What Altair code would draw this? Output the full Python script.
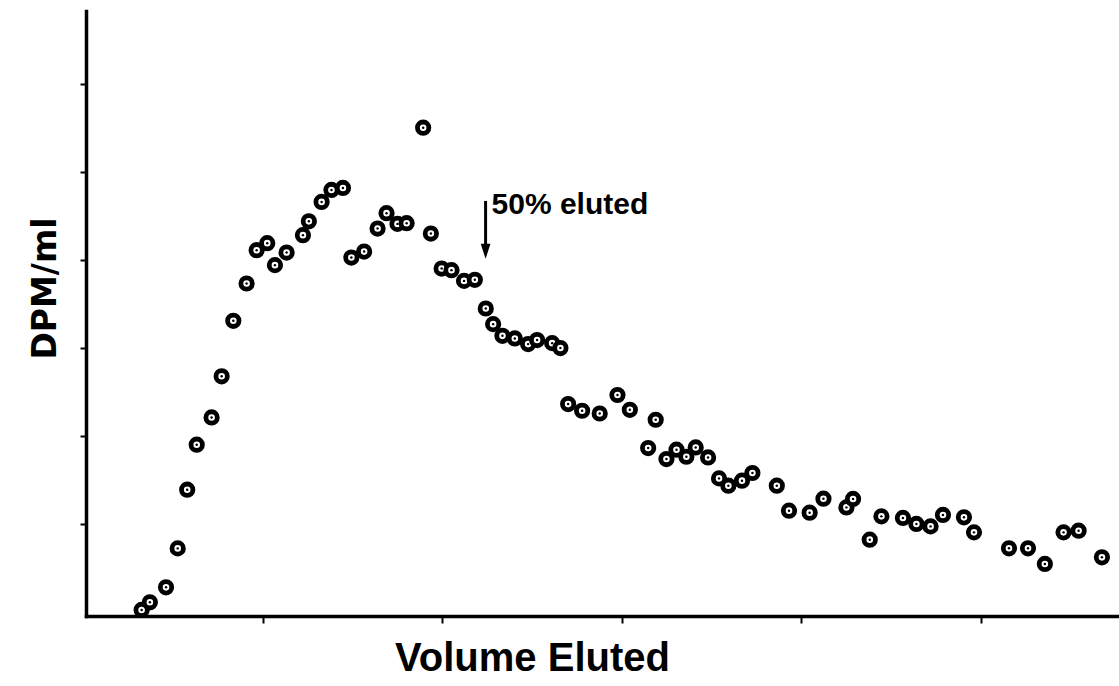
import altair as alt
import pandas as pd

# Volume eluted (axis units; ticks at 1..5) and DPM/ml (axis units; ticks at 1..6)
vol = [0.324, 0.370, 0.460, 0.525, 0.578, 0.631, 0.714, 0.770, 0.835, 0.909,
       0.965, 1.024, 1.067, 1.132, 1.223, 1.256, 1.327, 1.382, 1.446, 1.493,
       1.564, 1.639, 1.689, 1.750, 1.801, 1.893, 1.936, 1.996, 2.051, 2.121,
       2.181, 2.242, 2.283, 2.335, 2.404, 2.478, 2.528, 2.612, 2.658, 2.701,
       2.779, 2.877, 2.976, 3.045, 3.147, 3.189, 3.249, 3.305, 3.360, 3.412,
       3.481, 3.542, 3.594, 3.670, 3.728, 3.864, 3.932, 4.047, 4.124, 4.252,
       4.289, 4.382, 4.447, 4.567, 4.642, 4.721, 4.790, 4.907, 4.963, 5.158,
       5.264, 5.358, 5.462, 5.546, 5.676]
dpm = [0.019, 0.106, 0.276, 0.719, 1.386, 1.898, 2.208, 2.676, 3.307, 3.731,
       4.110, 4.190, 3.940, 4.083, 4.281, 4.438, 4.659, 4.795, 4.818, 4.026,
       4.094, 4.356, 4.531, 4.409, 4.417, 5.503, 4.299, 3.901, 3.883, 3.761,
       3.773, 3.447, 3.269, 3.136, 3.106, 3.042, 3.088, 3.053, 2.997, 2.360,
       2.284, 2.253, 2.463, 2.295, 1.860, 2.182, 1.735, 1.841, 1.761, 1.867,
       1.753, 1.515, 1.432, 1.489, 1.576, 1.432, 1.148, 1.125, 1.284, 1.185,
       1.281, 0.818, 1.083, 1.065, 0.997, 0.969, 1.099, 1.072, 0.901, 0.720,
       0.720, 0.542, 0.901, 0.920, 0.617]

x_ticks = [1, 2, 3, 4, 5]
y_ticks = [1, 2, 3, 4, 5, 6]

# annotation: arrow marking 50% eluted
arrow_x = [2.241]
arrow_top = [4.67]
arrow_head = [4.097]
label_x = [2.274]
label_y = [4.523]
label_text = ["50% eluted"]

df = pd.DataFrame({"vol": vol, "dpm": dpm})
arrow_df = pd.DataFrame({"x": arrow_x, "y": arrow_top, "y2": arrow_head})
label_df = pd.DataFrame({"x": label_x, "y": label_y, "text": label_text})

xscale = alt.Scale(domain=[0.014, 5.76], nice=False, zero=False)
yscale = alt.Scale(domain=[-0.05, 6.83], nice=False, zero=False)

x_axis = alt.Axis(values=x_ticks, labels=False, ticks=True, tickSize=7, tickWidth=2,
                  tickColor="black", domainColor="black", domainWidth=3.5, domainCap="square",
                  grid=False, title="Volume Eluted", titleFont="Liberation Sans",
                  titleFontSize=40, titleFontWeight="bold", titleColor="black",
                  titleX=446, titleY=54, titleAlign="center", titleBaseline="alphabetic")
y_axis = alt.Axis(values=y_ticks, labels=False, ticks=True, tickSize=6, tickWidth=2,
                  tickColor="black", domainColor="black", domainWidth=3.5, domainCap="square",
                  grid=False, title="DPM/ml", titleFont="DejaVu Sans",
                  titleFontSize=33, titleFontWeight="bold", titleColor="black",
                  titleAngle=270, titleX=-31, titleY=277, titleAlign="center",
                  titleBaseline="alphabetic")

base = alt.Chart(df)
rings = base.mark_circle(size=130, fill="white", stroke="black", strokeWidth=4.8,
                         opacity=1, fillOpacity=1, strokeOpacity=1).encode(
    x=alt.X("vol:Q", scale=xscale, axis=x_axis),
    y=alt.Y("dpm:Q", scale=yscale, axis=y_axis),
)
dots = base.mark_circle(size=6, color="black", opacity=1).encode(
    x=alt.X("vol:Q", scale=xscale),
    y=alt.Y("dpm:Q", scale=yscale),
)

shaft = alt.Chart(arrow_df).mark_rule(color="black", strokeWidth=3).encode(
    x=alt.X("x:Q", scale=xscale),
    y=alt.Y("y:Q", scale=yscale),
    y2="y2:Q",
)
head = alt.Chart(arrow_df).mark_point(shape="M-0.65,-1L0.65,-1L0,1Z", filled=True,
                                      color="black", size=225, opacity=1).encode(
    x=alt.X("x:Q", scale=xscale),
    y=alt.Y("y2:Q", scale=yscale),
)
label = alt.Chart(label_df).mark_text(align="left", baseline="alphabetic",
                                      font="Liberation Sans", fontWeight="bold",
                                      fontSize=30, color="black").encode(
    x=alt.X("x:Q", scale=xscale),
    y=alt.Y("y:Q", scale=yscale),
    text="text:N",
)

chart = alt.layer(rings, dots, shaft, head, label).properties(
    width=1031, height=605,
    autosize=alt.AutoSizeParams(type="none"),
    padding={"left": 86, "top": 11, "right": 2, "bottom": 70},
    background="white",
).configure_view(stroke=None)

chart.save("out.html", embed_options={"renderer": "svg", "actions": False})
